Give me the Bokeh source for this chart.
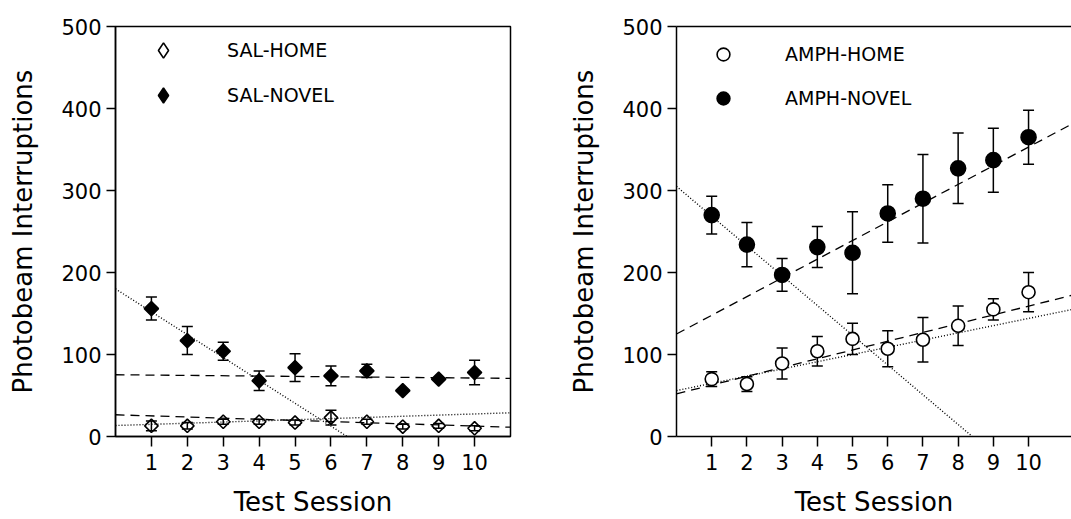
import numpy as np
from bokeh.plotting import figure
from bokeh.models import (ColumnDataSource, Whisker, TeeHead, Range1d, FixedTicker,
                          LinearAxis, Legend, LegendItem)
from bokeh.layouts import row
from bokeh.embed import file_html
from bokeh.resources import INLINE

# ---------------- data ----------------
sessions = [1, 2, 3, 4, 5, 6, 7, 8, 9, 10]
y_ticks = [0, 100, 200, 300, 400, 500]

sal_home = [13, 13, 18, 18, 17, 23, 18, 12, 13, 10]
sal_home_err = [6, 4, 3, 3, 3, 9, 3, 3, 3, 3]
sal_novel = [156, 117, 104, 68, 84, 74, 80, 56, 70, 78]
sal_novel_err = [14, 17, 11, 12, 17, 12, 8, 0, 0, 15]

amph_home = [70, 64, 89, 104, 119, 107, 118, 135, 155, 176]
amph_home_err = [9, 9, 19, 18, 19, 22, 27, 24, 13, 24]
amph_novel = [270, 234, 197, 231, 224, 272, 290, 327, 337, 365]
amph_novel_err = [23, 27, 20, 25, 50, 35, 54, 43, 39, 33]

# regression lines: intercept, slope
sal_novel_dot = (180.0, -27.9)
sal_novel_dash = (75.3, -0.40)
sal_home_dash = (26.5, -1.38)
sal_home_dot = (13.4, 1.41)

amph_novel_dot = (305.0, -36.3)
amph_novel_dash = (125.0, 22.8)
amph_home_dash = (52.0, 10.7)
amph_home_dot = (56.0, 8.8)

FONT = "DejaVu Sans"


def panel(width, x_end, b_left, b_right, b_top, boxed):
    p = figure(width=width, height=519, x_range=Range1d(0, x_end), y_range=Range1d(0, 500),
               output_backend="svg", toolbar_location=None,
               min_border_left=b_left, min_border_right=b_right,
               min_border_top=b_top, min_border_bottom=83)
    p.xgrid.visible = False
    p.ygrid.visible = False
    p.background_fill_color = "white"
    p.border_fill_color = "white"
    p.outline_line_color = "black" if boxed else None
    p.outline_line_width = 1.5
    p.xaxis.ticker = FixedTicker(ticks=sessions)
    p.yaxis.ticker = FixedTicker(ticks=y_ticks)
    for ax in (p.xaxis[0], p.yaxis[0]):
        ax.axis_line_color = "black"
        ax.axis_line_width = 1.5
        ax.major_tick_line_color = "black"
        ax.major_tick_line_width = 1.5
        ax.major_tick_in = 0
        ax.minor_tick_line_color = None
        ax.major_label_text_font = FONT
        ax.major_label_text_font_size = "21px"
        ax.major_label_text_color = "black"
        ax.axis_label_text_font = FONT
        ax.axis_label_text_font_size = "26px"
        ax.axis_label_text_font_style = "normal"
        ax.axis_label_text_color = "black"
    p.xaxis.major_tick_out = 10
    p.xaxis.major_label_standoff = 7
    p.xaxis.axis_label = "Test Session"
    p.xaxis.axis_label_standoff = 14
    p.yaxis.major_tick_out = 9
    p.yaxis.major_label_standoff = 5
    p.yaxis.axis_label = "Photobeam Interruptions"
    p.yaxis.axis_label_standoff = 20
    return p


def fit_line(p, params, x_end, dash):
    b, m = params
    xs = np.array([0.0, x_end])
    p.line(xs, b + m * xs, line_color="black", line_width=1.3 if dash else 1.4,
           line_dash="9 6" if dash else "1 2")


def series(p, values, errors, marker, size, filled, angle=0.0):
    v = np.array(values, dtype=float)
    e = np.array(errors, dtype=float)
    src = ColumnDataSource(dict(x=sessions, y=v, upper=v + e, lower=v - e))
    w = Whisker(source=src, base="x", upper="upper", lower="lower",
                line_color="black", line_width=1.5, level="underlay",
                upper_head=TeeHead(size=11, line_width=1.5, line_color="black"),
                lower_head=TeeHead(size=11, line_width=1.5, line_color="black"))
    p.add_layout(w)
    r = p.scatter("x", "y", source=src, marker=marker, size=size, angle=angle,
                  fill_color="black" if filled else ("white" if marker == "circle" else None),
                  line_color="black", line_width=1.6)
    return r, src


# ---------------- left panel ----------------
XL = 11.0
p1 = panel(530, XL, 115, 20, 26, True)
fit_line(p1, sal_novel_dot, XL, False)
fit_line(p1, sal_novel_dash, XL, True)
fit_line(p1, sal_home_dash, XL, True)
fit_line(p1, sal_home_dot, XL, False)
_, src_home = series(p1, sal_home, sal_home_err, "square", 9.5, False, np.pi / 4)
_, src_novel = series(p1, sal_novel, sal_novel_err, "square", 10, True, np.pi / 4)

# legend-only diamond renderers (size 0 on the plot, legend draws its own glyph)
lg_home = p1.scatter("x", "y", source=src_home, marker="diamond", size=0, fill_color=None,
                     line_color="black", line_width=1.6)
lg_novel = p1.scatter("x", "y", source=src_novel, marker="diamond", size=0, fill_color="black",
                      line_color="black", line_width=1.6)
leg1 = Legend(items=[LegendItem(label="SAL-HOME", renderers=[lg_home], index=0),
                     LegendItem(label="SAL-NOVEL", renderers=[lg_novel], index=0)],
              location="top_left", margin=5, padding=0, spacing=7,
              glyph_width=86, glyph_height=38, label_height=38, label_standoff=21,
              label_text_font=FONT, label_text_font_size="19px", label_text_color="black",
              border_line_color=None, background_fill_alpha=0)
p1.add_layout(leg1)

# ---------------- right panel ----------------
XR = 11.22
p2 = panel(541, XR, 146, 0, 25, False)
top_axis = LinearAxis(ticker=FixedTicker(ticks=[]), axis_line_color="black", axis_line_width=1.5,
                      major_tick_in=0, major_tick_out=0, minor_tick_line_color=None,
                      major_label_text_font_size="0px", major_label_standoff=0)
p2.add_layout(top_axis, "above")
fit_line(p2, amph_novel_dot, XR, False)
fit_line(p2, amph_novel_dash, XR, True)
fit_line(p2, amph_home_dash, XR, True)
fit_line(p2, amph_home_dot, XR, False)
r_home, _ = series(p2, amph_home, amph_home_err, "circle", 13, False)
r_novel, _ = series(p2, amph_novel, amph_novel_err, "circle", 15, True)

leg2 = Legend(items=[LegendItem(label="AMPH-HOME", renderers=[r_home], index=0),
                     LegendItem(label="AMPH-NOVEL", renderers=[r_novel], index=0)],
              location="top_left", margin=12, padding=0, spacing=12,
              glyph_width=70, glyph_height=32, label_height=32, label_standoff=27,
              label_text_font=FONT, label_text_font_size="19px", label_text_color="black",
              border_line_color=None, background_fill_alpha=0)
p2.add_layout(leg2)

layout = row(p1, p2)
open("out.html", "w").write(file_html(layout, INLINE))
